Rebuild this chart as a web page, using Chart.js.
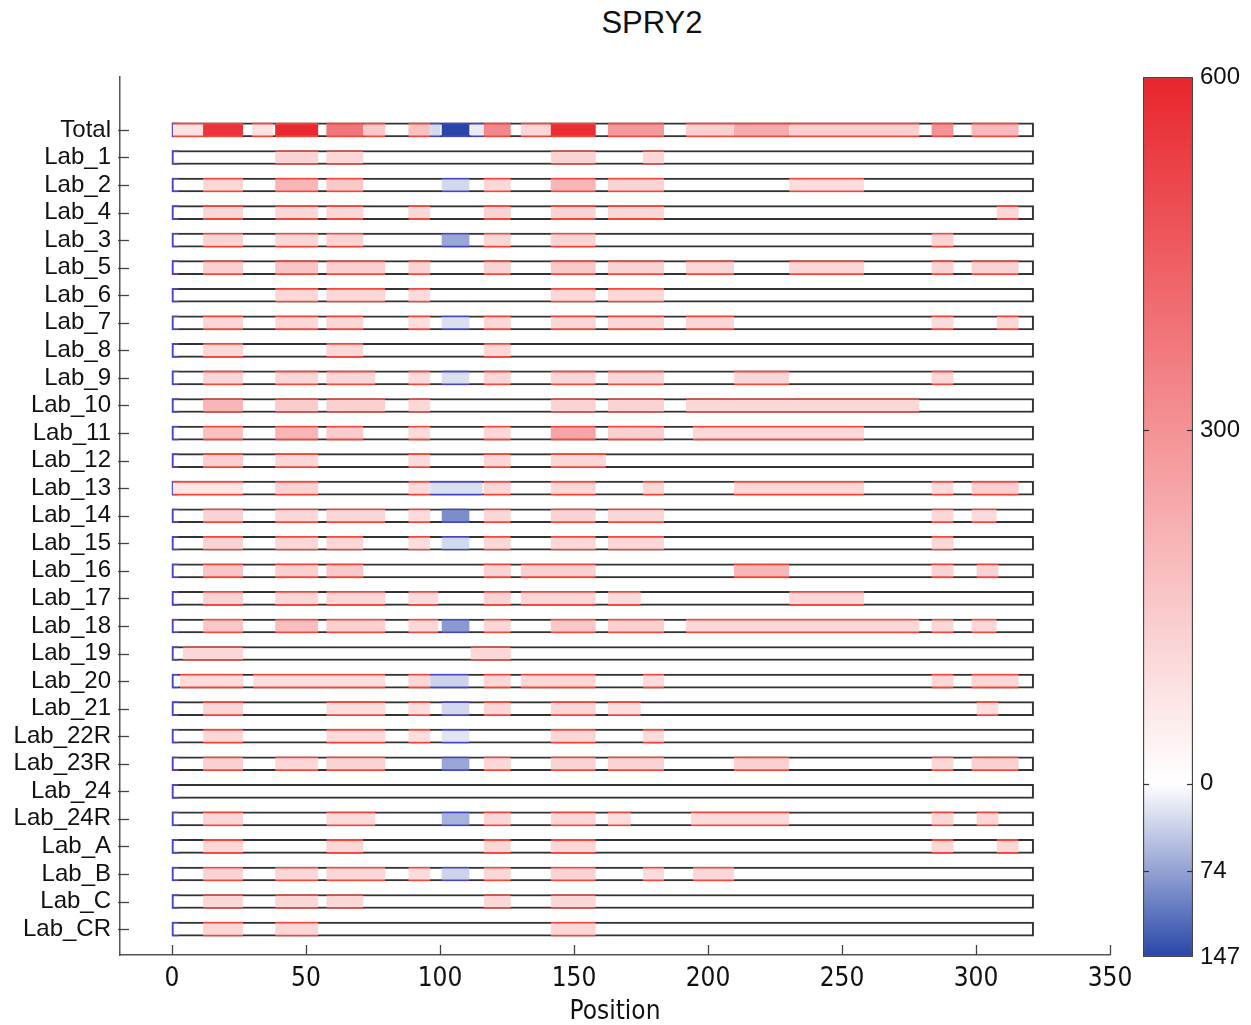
<!DOCTYPE html>
<html><head><meta charset="utf-8">
<script src="https://cdn.jsdelivr.net/npm/chart.js@4.4.1/dist/chart.umd.min.js"></script>
<style>
html,body{margin:0;padding:0;background:#fff;}
#wrap{position:relative;width:1251px;height:1025px;overflow:hidden;}
#main{position:absolute;left:0;top:0;}
#cbar{position:absolute;left:1130px;top:0;}
#title{position:absolute;left:452px;width:400px;top:5px;text-align:center;font:31px 'Liberation Sans',Arial,sans-serif;color:#111;}
</style></head>
<body><div id="wrap"><div id="title">SPRY2</div>
<canvas id="main" width="1251" height="1025"></canvas>
<canvas id="cbar" width="121" height="1025"></canvas></div>
<script>
// ---------- data ----------
const rowLabels = ['Total','Lab_1','Lab_2','Lab_4','Lab_3','Lab_5','Lab_6','Lab_7','Lab_8','Lab_9','Lab_10','Lab_11','Lab_12','Lab_13','Lab_14','Lab_15','Lab_16','Lab_17','Lab_18','Lab_19','Lab_20','Lab_21','Lab_22R','Lab_23R','Lab_24','Lab_24R','Lab_A','Lab_B','Lab_C','Lab_CR'];
const sequenceLength = 321.5;
const xTicks = [0,50,100,150,200,250,300,350];
const colorTicks = [-147,-74,0,300,600];
const colorMin = -147, colorMax = 600;

// peptide ranges (sequence positions)
const peptides = {
  A:[0.3,11.6], A0:[0.3,26.5], A3:[3.0,26.5], A4:[4.1,26.5],
  B:[11.6,26.5], C:[29.9,37.8], C2:[30.3,79.6], D:[38.5,54.6],
  E:[57.6,71.4], E2:[57.6,75.9], EF:[57.6,79.6], F:[71.4,79.6],
  G:[88.2,96.4], GH:[88.2,99.4], H:[96.4,100.2], HI:[96.4,110.7], HJ:[96.4,115.9],
  I:[100.6,111.0], J:[111.4,116.3], JK:[111.4,126.4], K:[116.3,126.4],
  L:[130.1,141.3], LM:[130.1,158.1], M:[141.3,158.1], M2:[141.3,161.9],
  N:[162.6,183.6], N1:[162.6,174.9], N0:[162.6,171.2], N2:[175.7,183.6],
  O:[191.8,209.7], O2:[194.4,209.7], OQ:[191.8,278.9], OQ1:[194.4,258.3], OP:[193.6,230.3],
  P:[209.7,230.3], Q:[230.3,278.9], Q1:[230.3,258.3], PQ1:[209.7,258.3],
  R:[283.4,291.6], S:[298.3,315.9], S1:[300.2,308.4], S0:[298.3,307.7], S2:[307.7,315.9]
};

// responses per row: [peptide, value]
const rowResponses = [
  [['A',80],['B',560],['C',80],['D',590],['E',380],['F',150],['G',170],['H',-30],['I',-147],['J',-15],['K',330],['L',110],['M',580],['N',280],['O',130],['P',230],['Q',130],['R',300],['S',190]],
  [['D',120],['E',110],['M',120],['N2',110]],
  [['B',110],['D',200],['E',150],['I',-30],['K',110],['M',200],['N',120],['Q1',100]],
  [['B',110],['D',110],['E',110],['G',110],['K',120],['M',120],['N',110],['S2',110]],
  [['B',120],['D',110],['E',120],['I',-70],['K',110],['M',120],['R',120]],
  [['B',130],['D',160],['EF',130],['G',120],['K',120],['M',150],['N',120],['O',110],['Q1',110],['R',120],['S',120]],
  [['D',110],['EF',110],['G',100],['M',110],['N',110]],
  [['B',110],['D',110],['E',110],['G',90],['I',-25],['K',110],['M',110],['N',110],['O',110],['R',100],['S2',110]],
  [['B',110],['E',110],['K',110]],
  [['B',110],['D',110],['E2',110],['G',100],['I',-25],['K',110],['M',110],['N',110],['P',110],['R',110]],
  [['B',200],['D',140],['EF',130],['G',110],['M',120],['N',120],['OQ',110]],
  [['B',170],['D',200],['E',140],['G',100],['K',110],['M',250],['N',130],['OQ1',110]],
  [['B',130],['D',110],['G',100],['K',110],['M2',110]],
  [['A0',70],['D',120],['G',100],['HJ',-25],['K',110],['M',110],['N2',110],['PQ1',110],['R',100],['S',130]],
  [['B',120],['D',110],['EF',110],['G',100],['I',-90],['K',110],['M',120],['N',110],['R',110],['S0',100]],
  [['B',120],['D',110],['E',110],['G',90],['I',-30],['K',110],['M',110],['N',110],['R',110]],
  [['B',160],['D',130],['E',150],['K',120],['LM',130],['P',200],['R',120],['S1',120]],
  [['B',120],['D',110],['EF',110],['GH',100],['K',120],['LM',110],['N1',100],['Q1',110]],
  [['B',150],['D',180],['EF',130],['GH',110],['I',-80],['K',110],['M',150],['N',130],['OQ',110],['R',110],['S0',110]],
  [['A4',110],['JK',110]],
  [['A3',100],['C2',90],['G',110],['HI',-35],['K',110],['LM',110],['N2',100],['R',110],['S',110]],
  [['B',110],['EF',90],['G',90],['I',-30],['K',110],['M',110],['N1',90],['S1',90]],
  [['B',110],['EF',100],['G',90],['I',-20],['M',110],['N2',100]],
  [['B',130],['D',110],['EF',120],['I',-70],['K',110],['M',120],['N',120],['P',130],['R',110],['S',130]],
  [],
  [['B',110],['E2',100],['I',-60],['K',110],['M',110],['N0',90],['OP',100],['R',110],['S1',110]],
  [['B',110],['E',110],['K',110],['M',110],['R',110],['S2',110]],
  [['B',120],['D',110],['EF',110],['G',100],['I',-35],['K',110],['M',120],['N2',100],['O2',110]],
  [['B',110],['D',110],['E',110],['K',110],['M',110]],
  [['B',110],['D',110],['M',110]]
];

// ---------- colour map ----------
const RED = [232,38,44], BLUE = [40,70,168];
function rgb(c){ return 'rgb(' + c.map(Math.round).join(',') + ')'; }
function cmap(v){
  const end = v >= 0 ? RED : BLUE;
  const t = v >= 0 ? Math.min(v / colorMax, 1) : Math.min(v / colorMin, 1);
  return rgb([0,1,2].map(i => 255 + (end[i] - 255) * t));
}

// ---------- build datasets ----------
const segData = [];
rowResponses.forEach((row, r) => row.forEach(([p, v]) => {
  segData.push({ y: r, x: peptides[p].slice(), v: v });
}));
const outlineData = rowLabels.map((_, r) => ({ y: r, x: [0, sequenceLength] }));
const startData = rowLabels.map((_, r) => ({ y: r, x: [0, 2.5] }));

const FONT = "'Liberation Sans', Arial, sans-serif";
const NARROW = "'Liberation Sans Narrow', 'Arial Narrow', 'DejaVu Sans Condensed', sans-serif";

const inwardTicks = {
  id: 'inwardTicks',
  afterDraw(chart) {
    const { ctx, chartArea: a, scales: { x, y } } = chart;
    ctx.save();
    ctx.strokeStyle = '#444';
    ctx.lineWidth = 1.3;
    y.ticks.forEach(t => {
      const py = Math.round(y.getPixelForValue(t.value)) + 0.5;
      ctx.beginPath(); ctx.moveTo(a.left - 2, py); ctx.lineTo(a.left + 9, py); ctx.stroke();
    });
    x.ticks.forEach(t => {
      const px = Math.round(x.getPixelForValue(t.value)) + 0.5;
      ctx.beginPath(); ctx.moveTo(px, a.bottom); ctx.lineTo(px, a.bottom - 10); ctx.stroke();
    });
    ctx.restore();
  }
};

new Chart(document.getElementById('main'), {
  type: 'bar',
  data: {
    datasets: [
      { data: outlineData, backgroundColor: '#fff', borderColor: '#333', borderWidth: 2,
        borderSkipped: false, barThickness: 14, grouped: false, order: 3 },
      { data: startData, backgroundColor: '#fff', borderColor: 'rgb(70,70,200)',
        borderWidth: { left: 2, top: 2, bottom: 2, right: 0 }, borderSkipped: false,
        barThickness: 14, grouped: false, order: 2 },
      { data: segData,
        backgroundColor: ctx => cmap(ctx.raw.v),
        borderColor: ctx => ctx.raw.v >= 0 ? 'rgb(242,70,58)' : 'rgb(70,70,195)',
        borderWidth: { top: 1.8, bottom: 1.8, left: 0, right: 0 }, borderSkipped: false,
        barThickness: 14, grouped: false, order: 1 }
    ]
  },
  options: {
    indexAxis: 'y',
    responsive: false,
    animation: false,
    events: [],
    layout: { padding: { left: 0, top: 77, right: 141, bottom: 0 } },
    plugins: { legend: { display: false }, tooltip: { enabled: false } },
    scales: {
      x: {
        type: 'linear', min: -19.4, max: 350, offset: false,
        afterBuildTicks: s => { s.ticks = xTicks.map(v => ({ value: v })); },
        afterFit: s => { s.height = 70; },
        grid: { display: false, drawTicks: false },
        border: { display: true, color: '#555', width: 1.5 },
        ticks: { font: { family: NARROW, size: 26 }, color: '#111', padding: 9, maxRotation: 0 },
        title: { display: true, text: 'Position', font: { family: NARROW, size: 26, lineHeight: 1.0 }, color: '#111', padding: { top: 0, bottom: 0 } }
      },
      y: {
        type: 'linear', reverse: true, min: -1.92, max: 29.94, offset: false,
        afterBuildTicks: s => { s.ticks = rowLabels.map((_, i) => ({ value: i })); },
        afterFit: s => { s.width = 120; },
        grid: { display: false, drawTicks: false },
        border: { display: true, color: '#555', width: 1.5 },
        ticks: { callback: v => rowLabels[v], font: { family: FONT, size: 24 }, color: '#111', padding: 9, autoSkip: false }
      }
    }
  },
  plugins: [inwardTicks]
});

// ---------- colour bar ----------
const cbTickMarks = {
  id: 'cbTickMarks',
  afterDraw(chart) {
    const { ctx, chartArea: a, scales: { y } } = chart;
    ctx.save();
    ctx.strokeStyle = '#333';
    ctx.lineWidth = 1.2;
    colorTicks.slice(1, -1).forEach(v => {
      if (v === colorMax) return;
      const py = Math.round(y.getPixelForValue(v)) + 0.5;
      ctx.beginPath(); ctx.moveTo(a.left, py); ctx.lineTo(a.left + 6, py); ctx.stroke();
      ctx.beginPath(); ctx.moveTo(a.right, py); ctx.lineTo(a.right - 6, py); ctx.stroke();
    });
    ctx.restore();
  }
};

new Chart(document.getElementById('cbar'), {
  type: 'bar',
  data: {
    labels: [''],
    datasets: [{
      data: [[colorMin, colorMax]],
      backgroundColor: ctx => {
        const a = ctx.chart.chartArea;
        if (!a) return '#fff';
        const g = ctx.chart.ctx.createLinearGradient(0, a.bottom, 0, a.top);
        g.addColorStop(0, rgb(BLUE));
        g.addColorStop((0 - colorMin) / (colorMax - colorMin), '#fff');
        g.addColorStop(1, rgb(RED));
        return g;
      },
      borderColor: '#444', borderWidth: 1.5, borderSkipped: false,
      barPercentage: 1, categoryPercentage: 1
    }]
  },
  options: {
    responsive: false,
    animation: false,
    events: [],
    layout: { padding: { left: 13, top: 77, right: 0, bottom: 68 } },
    plugins: { legend: { display: false }, tooltip: { enabled: false } },
    scales: {
      x: { display: false },
      y: {
        position: 'right', min: colorMin, max: colorMax,
        afterBuildTicks: s => { s.ticks = colorTicks.map(v => ({ value: v })); },
        afterFit: s => { s.width = 58; },
        grid: { display: false, drawTicks: false },
        border: { display: false },
        ticks: { callback: v => String(Math.abs(v)), font: { family: FONT, size: 24 }, color: '#111', padding: 7, autoSkip: false }
      }
    }
  },
  plugins: [cbTickMarks]
});
</script>
</body></html>
